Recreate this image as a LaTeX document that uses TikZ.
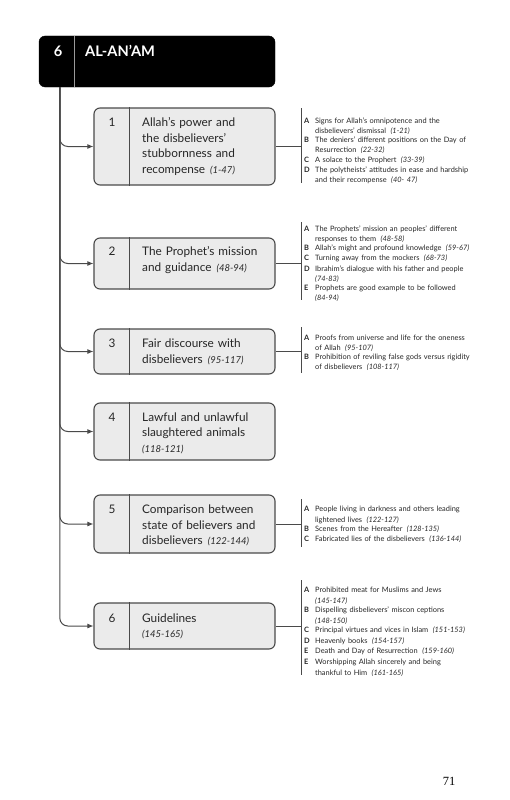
\documentclass[tikz,border=0pt]{standalone}
\usepackage{fontspec}
\setmainfont{Lato}
\newfontfamily\pgnumfont{Liberation Serif}
\usetikzlibrary{arrows.meta}
\definecolor{boxfill}{HTML}{EBEBEB}
\definecolor{boxline}{HTML}{4A4A4A}
\definecolor{txt}{HTML}{262626}
\definecolor{hdrline}{HTML}{9A9A9A}
\newcommand{\rng}[1]{\hspace{5pt}{\fontsize{9.5}{10}\itshape #1}}
\newcommand{\lrng}[1]{\hspace{4.5pt}{\itshape #1}}
\newcommand{\itm}[2]{\par\noindent\makebox[11pt][l]{\bfseries #1}\parbox[t]{175pt}{\raggedright\strut #2}\par}
\begin{document}
\begin{tikzpicture}[x=1pt,y=-1pt,
  hdr/.style={draw=black,fill=black,rounded corners=6pt,minimum width=236pt,minimum height=51pt,inner sep=0pt},
  hdrtext/.style={anchor=base west,inner sep=0pt,text=white,font=\fontsize{14.6}{16}\selectfont\bfseries},
  sbox/.style={draw=boxline,fill=boxfill,line width=1.1pt,rounded corners=6pt,minimum width=181pt,inner sep=0pt},
  divider/.style={draw=boxline,line width=1.1pt},
  num/.style={anchor=base,inner sep=0pt,text=txt,font=\fontsize{11.8}{13}\selectfont},
  ttl/.style={anchor=north west,inner sep=0pt,text width=132pt,align=left,text=txt,font=\fontsize{11.8}{15.5}\selectfont},
  lst/.style={anchor=north west,inner sep=0pt,text width=190pt,align=left,text=txt,font=\fontsize{7.4}{#1}\selectfont},
  conn/.style={draw=boxline,line width=1pt},
  branch/.style={draw=boxline,line width=1pt,rounded corners=8pt,-{Latex[length=6pt,width=5pt]}},
  pgn/.style={anchor=base,inner sep=0pt,font=\fontsize{12.5}{15}\pgnumfont}
]
\useasboundingbox (0,0) rectangle (510,800);

% header
\node[hdr] (h) at (157,61.5) {};
\draw[draw=hdrline,line width=0.8pt] ([xshift=36pt]h.north west) -- ([xshift=36pt]h.south west);
\node[hdrtext,anchor=base] (hn) at (58,56.5) {6};
\node[hdrtext] (ht) at (85,56.5) {AL-AN’AM};
\coordinate (t0) at ([xshift=21pt]h.south west);

% boxes
\node[sbox,minimum height=77pt] (b1) at (184.5,146.5) {};
\node[sbox,minimum height=51pt] (b2) at (184.5,263.5) {};
\node[sbox,minimum height=45pt] (b3) at (184.5,351.5) {};
\node[sbox,minimum height=57pt] (b4) at (184.5,431.5) {};
\node[sbox,minimum height=58pt] (b5) at (184.5,524) {};
\node[sbox,minimum height=46pt] (b6) at (184.5,626) {};
\foreach \b in {b1,b2,b3,b4,b5,b6}{
  \draw[divider] ([xshift=36pt]\b.north west) -- ([xshift=36pt]\b.south west);
  \draw[branch] (t0) |- (\b.west);
}

% numbers
\node[num] (n1) at (112,126.5) {1};
\node[num] (n2) at (112,255.5) {2};
\node[num] (n3) at (112,347.5) {3};
\node[num] (n4) at (112,421) {4};
\node[num] (n5) at (112,513.5) {5};
\node[num] (n6) at (112,622) {6};

% titles (first baseline = y + 10.85)
\node[ttl] (t1) at (142,115.7) {\strut Allah’s power and\\the disbelievers’\\stubbornness and\\recompense\rng{(1-47)}};
\node[ttl] (t2) at (142,244.6) {\strut The Prophet’s mission\\and guidance\rng{(48-94)}};
\node[ttl] (t3) at (142,336.6) {\strut Fair discourse with\\disbelievers\rng{(95-117)}};
\node[ttl] (t4) at (142,410.1) {\strut Lawful and unlawful\\slaughtered animals\\{\fontsize{9.5}{10}\itshape(118-121)}};
\node[ttl] (t5) at (142,502.6) {\strut Comparison between\\state of believers and\\disbelievers\rng{(122-144)}};
\node[ttl] (t6) at (142,611.1) {\strut Guidelines\\{\fontsize{9.5}{10}\itshape(145-165)}};

% list bars and connectors
\coordinate (l1t) at (301,108); \coordinate (l1b) at (301,183);
\coordinate (l2t) at (301,222); \coordinate (l2b) at (301,300);
\coordinate (l3t) at (301,327); \coordinate (l3b) at (301,373);
\coordinate (l5t) at (301,499); \coordinate (l5b) at (301,547);
\coordinate (l6t) at (301,580); \coordinate (l6b) at (301,675);
\foreach \b/\l in {b1/l1,b2/l2,b3/l3,b5/l5,b6/l6}{
  \draw[conn] (\l t) -- (\l b);
  \draw[conn] (\b.east) -- (\b.east -| \l t);
}

% lists (first baseline = y + 0.7*baselineskip)
\node[lst=10.2] (s1) at (304,112.9) {%
\itm{A}{Signs for Allah’s omnipotence and the\\disbelievers’ dismissal\lrng{(1-21)}}%
\itm{B}{The deniers’ different positions on the Day of\\Resurrection\lrng{(22-32)}}%
\itm{C}{A solace to the Prophert\lrng{(33-39)}}%
\itm{D}{The polytheists’ attitudes in ease and hardship\\and their recompense\lrng{(40- 47)}}};

\node[lst=10.15] (s2) at (304,220.9) {%
\itm{A}{The Prophets’ mission an peoples’ different\\responses to them\lrng{(48-58)}}%
\itm{B}{Allah’s might and profound knowledge\lrng{(59-67)}}%
\itm{C}{Turning away from the mockers\lrng{(68-73)}}%
\itm{D}{Ibrahim’s dialogue with his father and people\\{\itshape(74-83)}}%
\itm{E}{Prophets are good example to be followed\\{\itshape(84-94)}}};

\node[lst=9.8] (s3) at (304,330.6) {%
\itm{A}{Proofs from universe and life for the oneness\\of Allah\lrng{(95-107)}}%
\itm{B}{Prohibition of reviling false gods versus rigidity\\of disbelievers\lrng{(108-117)}}};

\node[lst=10.2] (s5) at (304,501.4) {%
\itm{A}{People living in darkness and others leading\\lightened lives\lrng{(122-127)}}%
\itm{B}{Scenes from the Hereafter\lrng{(128-135)}}%
\itm{C}{Fabricated lies of the disbelievers\lrng{(136-144)}}};

\node[lst=10.6] (s6) at (304,581.6) {%
\itm{A}{Prohibited meat for Muslims and Jews\\{\itshape(145-147)}}%
\itm{B}{Dispelling disbelievers’ miscon ceptions\\{\itshape(148-150)}}%
\itm{C}{Principal virtues and vices in Islam\lrng{(151-153)}}%
\itm{D}{Heavenly books\lrng{(154-157)}}%
\itm{E}{Death and Day of Resurrection\lrng{(159-160)}}%
\itm{E}{Worshipping Allah sincerely and being\\thankful to Him\lrng{(161-165)}}};

% page number
\node[pgn] (pg) at (449,785) {71};
\end{tikzpicture}
\end{document}
